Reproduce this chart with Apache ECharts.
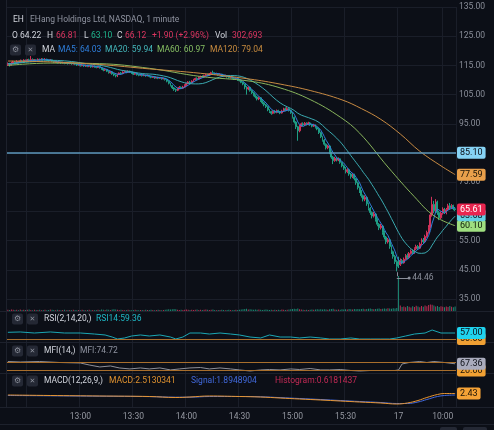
<!DOCTYPE html>
<html>
<head>
<meta charset="utf-8">
<style>
html, body { margin: 0; padding: 0; background: #0c0f17; }
#chart { width: 494px; height: 430px; }
</style>
<script src="https://cdn.jsdelivr.net/npm/echarts@6/dist/echarts.min.js"></script>
</head>
<body>
<div id="chart"></div>
<script>
// candles: [open, close, low, high], one per minute
const candles = [
  [115.2,115.6,114.8,116.0],[115.6,115.1,114.6,115.9],[115.1,115.8,115.0,116.2],[115.8,116.2,115.5,116.6],[116.2,115.7,115.3,116.5],
  [115.7,116.3,115.5,116.8],[116.3,116.0,115.6,116.6],[116.0,116.6,115.8,117.0],[116.6,116.2,115.9,116.9],[116.2,116.8,116.0,117.1],
  [116.8,116.4,116.1,117.0],[116.4,116.9,116.2,117.2],[116.9,116.5,116.2,117.3],[116.5,117.0,116.3,118.2],[117.0,116.6,116.3,117.4],
  [116.6,116.9,116.4,117.2],[116.9,116.7,116.4,117.1],[116.7,117.1,116.5,117.4],[117.1,116.8,116.5,117.3],[116.8,117.2,116.6,117.5],
  [117.2,116.9,116.6,117.4],[116.9,117.1,116.7,117.5],[117.1,116.8,116.5,117.3],[116.8,116.6,116.3,117.0],[116.6,116.9,116.4,117.2],
  [116.9,116.4,116.2,117.0],[116.4,116.1,115.8,116.6],[116.1,116.3,115.9,116.6],[116.3,115.9,115.6,116.5],[115.9,116.2,115.7,116.4],
  [116.2,115.8,115.5,116.3],[115.8,116.0,115.6,116.3],[116.0,115.7,115.4,116.2],[115.7,115.9,115.5,116.1],[115.9,115.6,115.3,116.0],
  [115.6,115.8,115.4,116.1],[115.8,115.5,115.2,115.9],[115.5,115.7,115.3,116.0],[115.7,115.4,115.1,115.8],[115.4,115.1,114.8,115.6],
  [115.1,115.3,114.9,115.6],[115.3,114.9,114.6,115.4],[114.9,115.2,114.7,115.5],[115.2,114.8,114.5,115.3],[114.8,115.0,114.5,115.3],
  [115.0,114.7,114.4,115.2],[114.7,114.9,114.4,115.1],[114.9,114.5,114.2,115.0],[114.5,114.8,114.3,115.0],[114.8,114.6,114.2,115.0],
  [114.6,114.3,114.0,114.8],[114.3,114.6,114.1,114.8],[114.6,114.2,113.9,114.7],[114.2,113.8,113.5,114.4],[113.8,113.4,113.0,114.0],
  [113.4,113.6,113.1,113.9],[113.6,113.0,112.7,113.8],[113.0,112.5,112.2,113.2],[112.5,112.8,112.2,113.1],[112.8,112.1,111.8,113.0],
  [112.1,111.7,111.3,112.3],[111.7,111.4,110.9,111.9],[111.4,111.9,111.0,112.2],[111.9,112.4,111.7,112.6],[112.4,112.2,111.9,112.7],
  [112.2,112.7,112.0,113.0],[112.7,112.9,112.5,113.3],[112.9,112.6,112.3,113.1],[112.6,113.0,112.4,113.3],[113.0,112.7,112.4,113.2],
  [112.7,112.4,112.1,112.9],[112.4,112.0,111.7,112.6],[112.0,112.2,111.8,112.5],[112.2,111.8,111.5,112.3],[111.8,111.6,111.3,112.0],
  [111.6,111.9,111.4,112.1],[111.9,111.5,111.2,112.0],[111.5,111.7,111.3,112.0],[111.7,111.4,111.1,111.8],[111.4,111.6,111.2,111.9],
  [111.6,111.2,110.9,111.7],[111.2,110.9,110.6,111.4],[110.9,111.1,110.7,111.3],[111.1,110.7,110.4,111.2],[110.7,110.9,110.5,111.1],
  [110.9,110.6,110.3,111.1],[110.6,110.8,110.4,111.0],[110.8,110.4,110.1,110.9],[110.4,110.6,110.2,110.8],[110.6,110.2,109.8,110.7],
  [110.2,109.6,109.2,110.4],[109.6,108.9,108.5,109.8],[108.9,108.1,107.8,109.1],[108.1,107.3,106.9,108.3],[107.3,106.8,106.3,107.6],
  [106.8,106.5,105.9,107.1],[106.5,107.1,106.2,107.4],[107.1,107.5,106.8,107.9],[107.5,107.2,106.9,107.8],[107.2,107.6,107.0,108.0],
  [107.6,108.2,107.4,108.5],[108.2,108.8,108.0,109.1],[108.8,109.3,108.5,109.6],[109.3,109.0,108.7,109.7],[109.0,109.6,108.8,109.9],
  [109.6,110.1,109.4,110.4],[110.1,110.5,109.8,110.8],[110.5,110.3,110.0,110.9],[110.3,110.9,110.1,111.2],[110.9,111.2,110.7,111.5],
  [111.2,111.0,110.7,111.6],[111.0,111.5,110.8,111.8],[111.5,111.8,111.3,112.1],[111.8,111.6,111.3,112.2],[111.6,112.1,111.4,112.4],
  [112.1,112.5,111.9,112.8],[112.5,112.3,111.9,113.2],[112.3,112.0,111.7,112.6],[112.0,112.2,111.8,112.5],[112.2,111.8,111.5,112.3],
  [111.8,112.0,111.6,112.3],[112.0,111.6,111.3,112.1],[111.6,111.3,111.0,111.8],[111.3,111.5,111.0,111.8],[111.5,111.1,110.8,111.6],
  [111.1,110.8,110.5,111.3],[110.8,111.0,110.5,111.2],[111.0,110.6,110.3,111.1],[110.6,110.3,110.0,110.8],[110.3,110.5,110.0,110.8],
  [110.5,110.1,109.7,110.6],[110.1,109.8,109.5,110.3],[109.8,109.2,108.9,110.0],[109.2,108.6,108.2,109.4],[108.6,107.6,106.8,108.8],
  [107.6,106.9,105.0,107.9],[106.9,107.5,106.5,107.8],[107.5,106.4,106.0,107.7],[106.4,105.6,105.2,106.8],[105.6,104.8,104.4,105.9],
  [104.8,104.2,103.7,105.1],[104.2,103.5,103.0,104.6],[103.5,103.9,103.1,104.3],[103.9,102.9,102.5,104.1],[102.9,102.2,101.7,103.2],
  [102.2,101.5,101.0,102.6],[101.5,100.9,100.4,101.8],[100.9,99.8,99.3,101.2],[99.8,99.2,98.7,100.1],[99.2,98.6,98.1,99.5],
  [98.6,99.3,98.3,99.6],[99.3,98.9,98.5,99.7],[98.9,99.5,98.6,99.9],[99.5,99.1,98.8,99.8],[99.1,98.7,98.3,99.4],
  [98.7,99.4,98.5,99.8],[99.4,100.1,99.2,100.5],[100.1,99.7,99.3,100.6],[99.7,100.2,99.4,100.7],[100.2,99.6,99.2,100.5],
  [99.6,98.8,98.4,99.9],[98.8,97.2,96.8,99.0],[97.2,95.6,95.1,97.5],[95.6,94.0,93.2,95.9],[94.0,92.6,89.2,94.3],
  [92.6,94.2,92.1,94.6],[94.2,95.0,93.9,95.4],[95.0,94.6,94.2,95.5],[94.6,95.2,94.3,95.6],[95.2,94.8,94.4,95.5],
  [94.8,95.3,94.5,95.7],[95.3,94.7,94.3,95.6],[94.7,94.2,93.8,95.0],[94.2,94.6,93.9,95.0],[94.6,93.8,93.4,94.8],
  [93.8,93.2,92.8,94.1],[93.2,92.0,91.5,93.5],[92.0,90.6,90.1,92.3],[90.6,89.4,88.9,90.9],[89.4,88.0,87.5,89.8],
  [88.0,86.8,86.2,88.3],[86.8,87.4,86.3,87.8],[87.4,85.2,84.6,87.6],[85.2,83.6,83.0,85.5],[83.6,82.4,81.2,84.0],
  [82.4,83.2,82.0,83.7],[83.2,82.6,82.1,83.6],[82.6,83.0,82.2,83.5],[83.0,81.8,81.3,83.2],[81.8,80.6,80.1,82.0],
  [80.6,79.8,79.2,81.0],[79.8,78.6,78.0,80.2],[78.6,79.3,78.1,79.8],[79.3,77.8,77.2,79.6],[77.8,76.9,76.2,78.2],
  [76.9,77.6,76.4,78.1],[77.6,76.2,75.6,77.9],[76.2,74.8,74.1,76.5],[74.8,73.2,72.5,75.2],[73.2,72.0,71.3,73.6],
  [72.0,70.4,69.7,72.3],[70.4,69.2,68.4,70.8],[69.2,69.8,68.5,70.5],[69.8,67.6,66.9,70.1],[67.6,66.1,65.3,68.0],
  [66.1,64.6,63.8,66.5],[64.6,63.4,62.6,65.0],[63.4,64.1,62.9,64.8],[64.1,62.2,61.5,64.4],[62.2,60.6,59.9,62.6],
  [60.6,59.4,58.6,61.0],[59.4,60.0,58.8,60.7],[60.0,57.8,57.0,60.3],[57.8,56.2,55.4,58.3],[56.2,54.6,53.8,56.6],
  [54.6,55.3,54.0,55.9],[55.3,53.0,52.2,55.6],[53.0,51.2,50.4,53.4],[51.2,49.6,48.8,51.6],[49.6,47.8,47.0,50.1],
  [47.8,46.2,44.46,48.3],[48.0,46.8,45.6,49.5],[46.8,48.2,46.3,48.9],[48.2,47.4,46.9,48.7],[47.4,48.6,47.1,49.2],
  [48.6,49.8,48.3,50.4],[49.8,49.2,48.7,50.6],[49.2,50.6,48.9,51.1],[50.6,51.4,50.2,52.0],[51.4,50.8,50.3,51.9],
  [50.8,52.2,50.5,52.7],[52.2,53.0,51.8,53.6],[53.0,52.4,51.9,53.5],[52.4,53.8,52.1,54.4],[53.8,55.2,53.5,55.8],
  [55.2,54.6,54.0,55.9],[54.6,56.4,54.3,57.0],[56.4,57.8,56.0,58.4],[57.8,59.6,57.4,60.3],[59.6,63.8,59.2,64.6],
  [63.8,67.4,63.2,70.0],[67.4,65.2,64.4,68.6],[65.2,68.2,64.8,69.2],[68.2,64.6,63.8,68.7],[64.6,62.8,62.0,65.2],
  [62.8,64.4,62.4,65.0],[64.4,65.8,63.9,66.4],[65.8,64.6,64.1,66.2],[64.6,65.6,64.0,66.2],[65.6,66.9,65.2,67.6],
  [66.9,66.2,65.6,67.9],[66.2,67.0,65.8,67.5],[67.0,65.9,65.4,67.3],[65.9,65.61,65.1,66.4]
];

// volume in thousands, same order as candles
const volumes = [
  5,4,6,5,4,5,3,6,4,5,4,5,6,4,3,5,4,4,5,3,
  4,5,3,4,6,5,4,3,5,4,3,4,5,3,4,4,3,5,4,3,
  4,3,5,4,3,4,5,3,4,3,4,5,4,6,5,4,6,5,4,6,
  7,6,5,4,5,4,3,4,5,4,3,4,5,4,3,4,4,3,5,4,
  4,5,4,3,4,5,4,3,4,5,6,7,6,7,8,7,5,4,5,4,
  5,6,5,4,5,4,5,6,4,5,4,5,6,5,4,5,6,4,3,4,
  4,5,4,3,4,5,4,3,4,5,4,5,6,7,8,9,6,7,6,5,
  6,5,6,5,4,5,6,5,4,5,4,5,4,5,4,6,5,4,5,6,
  7,8,9,8,10,7,6,5,4,5,4,5,6,5,6,7,6,7,6,7,
  6,5,7,8,9,6,5,6,5,7,6,7,6,8,7,6,8,7,8,7,
  8,9,7,8,9,10,8,7,8,9,10,8,9,10,9,11,10,9,11,10,
  12,140,22,16,18,15,20,17,14,19,16,21,18,15,20,17,22,19,24,26,
  25,22,18,20,16,19,17,15,18,16,20,17,15,18
];

// long moving averages: [candle index, value]
const ma60Points = [[0,115.0],[24,115.8],[52,115.6],[80,114.0],[109,111.2],[137,109.6],[154,107.3],[171,103.3],
  [188,97.3],[199,91.8],[215,80.2],[230,70.0],[241,63.5],[253,60.1]];
const ma120Points = [[0,116.5],[24,116.2],[52,115.3],[80,113.8],[109,112.3],[137,110.3],[154,108.6],[171,106.4],
  [189,103.2],[200,100.2],[211,96.5],[222,91.5],[233,85.6],[245,80.6],[253,77.6]];

// indicator panes: [candle index, value]
const rsiPoints = [[0,57.8],[7,58.2],[15,57.0],[24,58.2],[32,57.0],[41,57.0],[49,55.8],[55,54.7],[59,52.3],[62,50.0],
  [66,51.2],[70,53.5],[75,54.7],[80,53.5],[86,54.7],[92,52.3],[95,50.0],[99,52.3],[103,57.0],[109,57.0],[114,55.8],
  [120,57.0],[126,55.8],[131,54.7],[137,52.3],[143,51.2],[148,54.7],[154,52.3],[160,52.3],[165,51.2],[171,52.3],
  [177,51.2],[182,50.0],[188,50.0],[194,51.2],[199,50.0],[205,50.0],[211,50.0],[216,50.0],[220,51.2],[225,53.5],
  [230,55.8],[236,57.0],[240,60.5],[245,57.0],[249,57.0],[253,57.0]];
const mfiPoints = [[0,83.5],[7,80],[18,83.5],[29,76.5],[41,73],[46,59],[52,45],[58,52],[63,38],[69,31],[75,38],
  [80,31],[86,38],[92,24],[97,31],[103,38],[109,41],[114,31],[120,38],[126,31],[131,24],[137,16.5],[143,24],
  [148,27],[154,24],[160,31],[165,27],[171,34],[177,24],[182,24],[188,27],[194,20],[199,16.5],[205,20],[211,20],
  [219,20],[221,24],[223,66],[227,76.5],[233,83.5],[237,76.5],[241,83.5],[247,76.5],[253,67.36]];
const macdPoints = [[0,1.68],[24,1.43],[52,1.18],[80,0.93],[95,0.43],[103,0.68],[114,1.18],[131,0.93],[143,0.68],
  [154,0.18],[165,-0.32],[177,-0.82],[188,-1.32],[199,-1.82],[211,-2.32],[220,-2.82],[226,-2.32],[232,-1.07],
  [237,0.43],[243,1.93],[247,2.43],[253,2.43]];
const signalPoints = [[0,1.43],[24,1.28],[52,1.08],[80,0.88],[95,0.58],[103,0.58],[114,0.93],[131,0.93],[143,0.78],
  [154,0.38],[165,-0.07],[177,-0.57],[188,-1.07],[199,-1.57],[211,-2.07],[220,-2.57],[226,-2.57],[232,-1.82],
  [237,-0.57],[243,0.93],[247,1.43],[253,1.68]];

// price tags on the right edge
const alertLine = 85.10;
const lastMa120 = 77.59, lastMa20 = 63.68, lastClose = 65.61, lastMa60 = 60.10;
const lowPrice = 44.46;
const rsiMid = 50, rsiLast = 57.00;
const mfiHigh = 80, mfiLow = 20, mfiLast = 67.36;
const macdLast = 2.43;

// x ticks: time -> label
const tickLabels = {'12:30': '', '13:00': '13:00', '13:30': '13:30', '14:00': '14:00', '14:30': '14:30',
  '15:00': '15:00', '15:30': '15:30', '09:35': '17', '10:00': '10:00'};

function minuteRange(h, m, count) {
  const out = [];
  for (let i = 0; i < count; i++) {
    const t = h * 60 + m + i;
    out.push(String(Math.floor(t / 60)).padStart(2, '0') + ':' + String(t % 60).padStart(2, '0'));
  }
  return out;
}
const categories = minuteRange(12, 19, 221).concat(minuteRange(9, 35, 33));

function movingAverage(n) {
  return candles.map(function (c, i) {
    const from = Math.max(0, i - n + 1);
    let sum = 0;
    for (let j = from; j <= i; j++) sum += candles[j][1];
    return +(sum / (i - from + 1)).toFixed(2);
  });
}

const UP = '#d2325a', DOWN = '#1f9d83';
const GRID_LINE = '#1a1e29';
const FONT = 'Roboto';
const isTick = function (idx, val) { return Object.prototype.hasOwnProperty.call(tickLabels, val); };

const grids = [
  {left: 7, right: 38, top: 7, height: 292},    // price
  {left: 7, right: 38, top: 276, height: 35},   // volume
  {left: 7, right: 38, top: 312, height: 30},   // RSI
  {left: 7, right: 38, top: 343, height: 30},   // MFI
  {left: 7, right: 38, top: 374, height: 33}    // MACD
];

const xAxes = grids.map(function (g, k) {
  return {
    type: 'category', gridIndex: k, data: categories, boundaryGap: true,
    axisLine: {show: false}, axisTick: {show: false},
    axisLabel: {
      show: k === 4, interval: isTick, margin: 5, color: '#9598a1', fontSize: 8.5, fontFamily: FONT,
      formatter: function (v) { return tickLabels[v] || ''; }
    },
    splitLine: {show: true, interval: isTick, lineStyle: {color: GRID_LINE, width: 1}}
  };
});

const yAxes = [
  {
    gridIndex: 0, position: 'right', min: 35, max: 135, interval: 10,
    axisLine: {show: false}, axisTick: {show: false},
    axisLabel: {color: '#8a8e99', fontSize: 8.5, margin: 3, fontFamily: FONT,
      formatter: function (v) { return v.toFixed(2); }},
    splitLine: {lineStyle: {color: GRID_LINE, width: 1}}
  },
  {gridIndex: 1, min: 0, max: 140, show: false},
  {gridIndex: 2, min: 46.5, max: 81.5, show: false},
  {gridIndex: 3, min: 2.35, max: 214.1, show: false},
  {gridIndex: 4, min: -4.32, max: 12.18, show: false}
];

function tag(value, bg, fg, line) {
  return {
    yAxis: value,
    lineStyle: line ? {color: line, width: 1.5, type: 'solid'} : {color: 'rgba(0,0,0,0)', width: 0},
    label: {
      show: true, position: 'end', distance: 1, formatter: value.toFixed(2),
      backgroundColor: bg, color: fg, padding: [2, 3, 1, 3], borderRadius: 2,
      fontSize: 9, fontFamily: FONT
    }
  };
}
function guide(value, color) {
  return {yAxis: value, lineStyle: {color: color, width: 1, type: 'solid'}, label: {show: false}};
}

const markBase = {symbol: ['none', 'none'], silent: true, animation: false};

const series = [
  {
    name: 'EH', type: 'candlestick', xAxisIndex: 0, yAxisIndex: 0, data: candles, barWidth: '80%',
    itemStyle: {color: UP, color0: DOWN, borderColor: UP, borderColor0: DOWN, borderWidth: 1},
    markLine: Object.assign({}, markBase, {
      data: [
        tag(alertLine, '#86d3f5', '#0c0f17', '#5c97bb'),
        tag(lastMa120, '#e9a04b', '#1a1206'),
        tag(lastMa60, '#9fdf80', '#0e1a08'),
        tag(lastMa20, '#63d0e4', '#0c0f17'),
        tag(lastClose, '#e8254f', '#ffffff'),
        [
          {coord: [220, lowPrice - 0.3], symbol: 'none'},
          {coord: [220, 42.2], symbol: 'none', lineStyle: {color: '#8a8e99', width: 1}}
        ],
        [
          {coord: [220, 42.2], symbol: 'none'},
          {coord: [227, 42.2], symbol: 'circle', symbolSize: 3,
            lineStyle: {color: '#8a8e99', width: 1, type: 'solid'},
            label: {show: true, position: 'end', distance: 3, formatter: lowPrice.toFixed(2),
              color: '#8a8e99', fontSize: 8.5, fontFamily: FONT}}
        ]
      ]
    })
  },
  {name: 'MA5', type: 'line', xAxisIndex: 0, yAxisIndex: 0, data: movingAverage(5), showSymbol: false,
    lineStyle: {color: '#2f7fdc', width: 1}, z: 3},
  {name: 'MA20', type: 'line', xAxisIndex: 0, yAxisIndex: 0, data: movingAverage(20), showSymbol: false,
    lineStyle: {color: '#3aa9b0', width: 1}, z: 3},
  {name: 'MA60', type: 'line', xAxisIndex: 0, yAxisIndex: 0, data: ma60Points, showSymbol: false, smooth: 0.4,
    lineStyle: {color: '#88b45c', width: 1}, z: 3},
  {name: 'MA120', type: 'line', xAxisIndex: 0, yAxisIndex: 0, data: ma120Points, showSymbol: false, smooth: 0.4,
    lineStyle: {color: '#c88a42', width: 1}, z: 3},
  {
    name: 'Vol', type: 'bar', xAxisIndex: 1, yAxisIndex: 1, barWidth: 1,
    data: volumes.map(function (v, i) {
      return {value: v, itemStyle: {color: candles[i][1] >= candles[i][0] ? UP : DOWN, opacity: 0.85}};
    })
  },
  {
    name: 'RSI', type: 'line', xAxisIndex: 2, yAxisIndex: 2, data: rsiPoints, showSymbol: false,
    lineStyle: {color: '#1aa7b4', width: 1},
    markLine: Object.assign({}, markBase, {data: [
      Object.assign(tag(rsiMid, '#f0a033', '#1a1206'), {lineStyle: {color: '#a86e2c', width: 1, type: 'solid'}}),
      tag(rsiLast, '#1fd3ef', '#0c0f17')
    ]})
  },
  {
    name: 'MFI', type: 'line', xAxisIndex: 3, yAxisIndex: 3, data: mfiPoints, showSymbol: false,
    lineStyle: {color: '#8e9099', width: 1},
    markLine: Object.assign({}, markBase, {data: [
      guide(mfiHigh, '#a86e2c'),
      Object.assign(tag(mfiLow, '#f0a033', '#1a1206'), {lineStyle: {color: '#a86e2c', width: 1, type: 'solid'}}),
      tag(mfiLast, '#a9abbc', '#0c0f17')
    ]})
  },
  {name: 'Signal', type: 'line', xAxisIndex: 4, yAxisIndex: 4, data: signalPoints, showSymbol: false, smooth: 0.4,
    lineStyle: {color: '#4169dc', width: 1}},
  {
    name: 'MACD', type: 'line', xAxisIndex: 4, yAxisIndex: 4, data: macdPoints, showSymbol: false, smooth: 0.4,
    lineStyle: {color: '#e8952f', width: 1},
    markLine: Object.assign({}, markBase, {data: [tag(macdLast, '#f5a236', '#1a1206')]})
  }
];

// header and pane titles
function text(x, y, str, fill) {
  return {type: 'text', x: x, y: y, z: 100, silent: true,
    style: {text: str, fill: fill, font: '8.5px ' + FONT, verticalAlign: 'middle'}};
}
function icons(x, y) {
  return [
    {type: 'rect', z: 100, silent: true, shape: {x: x, y: y - 5.5, width: 11, height: 11, r: 2}, style: {fill: '#242834'}},
    {type: 'text', z: 101, silent: true, x: x + 5.5, y: y,
      style: {text: '\u2699', fill: '#8a8e99', font: '8px "DejaVu Sans"', align: 'center', verticalAlign: 'middle'}},
    {type: 'rect', z: 100, silent: true, shape: {x: x + 15, y: y - 5.5, width: 11, height: 11, r: 2}, style: {fill: '#242834'}},
    {type: 'text', z: 101, silent: true, x: x + 20.5, y: y,
      style: {text: '\u2715', fill: '#8a8e99', font: '7px "DejaVu Sans"', align: 'center', verticalAlign: 'middle'}}
  ];
}
const WHITE = '#d1d4dc', GREY = '#8f93a0', RED = '#dc3560', GREEN = '#1fb48c';

function separator(y) {
  return {type: 'line', silent: true, z: 1, shape: {x1: 0, y1: y, x2: 494, y2: y}, style: {stroke: '#1d212c', lineWidth: 1}};
}

const graphics = [
  separator(311.5), separator(342.5), separator(373.5), separator(407.5), separator(424.5),
  {type: 'line', silent: true, z: 1, shape: {x1: 6.5, y1: 0, x2: 6.5, y2: 408}, style: {stroke: '#1d212c', lineWidth: 1}},
  {type: 'rect', silent: true, z: 1, shape: {x: 440, y: 427, width: 17, height: 6, r: 2}, style: {fill: '#242834'}},
  {type: 'rect', silent: true, z: 1, shape: {x: 463, y: 427, width: 24, height: 6, r: 2}, style: {fill: '#242834'}},

  text(13, 20, 'EH', WHITE), text(30, 20, 'EHang Holdings Ltd, NASDAQ, 1 minute', GREY),

  text(12, 36, 'O', WHITE), text(20, 36, '64.22', WHITE),
  text(47, 36, 'H', WHITE), text(56, 36, '66.81', RED),
  text(84, 36, 'L', WHITE), text(91, 36, '63.10', GREEN),
  text(117, 36, 'C', WHITE), text(125, 36, '66.12', RED),
  text(152, 36, '+1.90 (+2.96%)', RED),
  text(215, 36, 'Vol', WHITE), text(232, 36, '302,693', RED),

  text(42, 50, 'MA', WHITE), text(58, 50, 'MA5: 64.03', '#2f7fdc'), text(105, 50, 'MA20: 59.94', '#44b6ba'),
  text(157, 50, 'MA60: 60.97', '#86bf63'), text(210, 50, 'MA120: 79.04', '#c98c3f'),

  text(44, 319, 'RSI(2,14,20,)', WHITE), text(96, 319, 'RSI14:59.36', '#1fb8c6'),
  text(44, 351, 'MFI(14,)', WHITE), text(80, 351, 'MFI:74.72', GREY),
  text(44, 381, 'MACD(12,26,9,)', WHITE), text(109, 381, 'MACD:2.5130341', '#e0922f'),
  text(191, 381, 'Signal:1.8948904', '#4169dc'), text(275, 381, 'Histogram:0.6181437', '#c22a55')
].concat(icons(10, 50), icons(12, 319), icons(12, 351), icons(12, 381));

const chart = echarts.init(document.getElementById('chart'));
chart.setOption({
  animation: false,
  backgroundColor: '#0c0f17',
  grid: grids,
  xAxis: xAxes,
  yAxis: yAxes,
  series: series,
  graphic: graphics
});
</script>
</body>
</html>
